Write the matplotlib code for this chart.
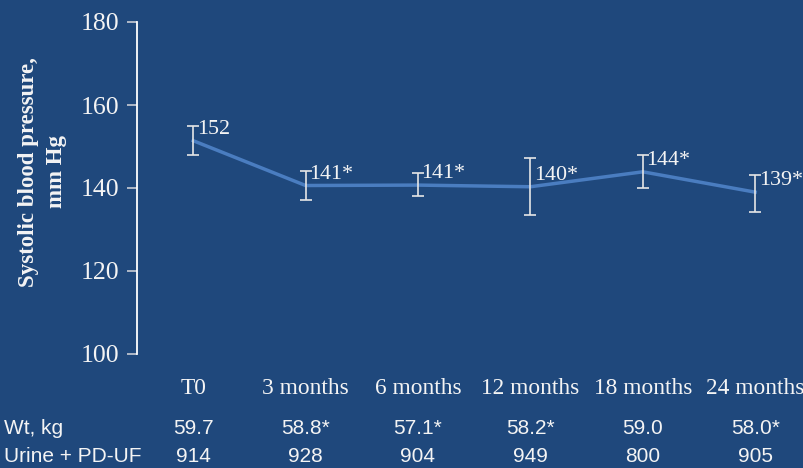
import matplotlib
matplotlib.use('Agg')
import matplotlib.pyplot as plt
import matplotlib.transforms as mtransforms
import numpy as np

# data
categories = ['T0', '3 months', '6 months', '12 months', '18 months', '24 months']
sbp = [151.4, 140.6, 140.7, 140.3, 143.9, 139.0]
sbp_upper = [155.0, 144.1, 143.6, 147.2, 147.9, 143.1]
sbp_lower = [147.9, 137.1, 138.1, 133.5, 140.0, 134.2]
sbp_labels = ['152', '141*', '141*', '140*', '144*', '139*']
wt_kg = ['59.7', '58.8*', '57.1*', '58.2*', '59.0', '58.0*']
urine_pduf = ['914', '928', '904', '949', '800', '905']
yticks = [100, 120, 140, 160, 180]

bg = '#1F487C'
line_col = '#4A7DC0'
txt = '#F4F4F4'
serif = ['Liberation Serif', 'DejaVu Serif']
sans = ['Liberation Sans', 'DejaVu Sans']

fig = plt.figure(figsize=(8.04, 4.68), dpi=100, facecolor=bg)
ax = fig.add_axes([137/804, 1 - 354/468, 1 - 137/804, (354 - 22)/468])
ax.set_facecolor(bg)

x = np.arange(len(categories))
y = np.array(sbp)
yerr = [y - np.array(sbp_lower), np.array(sbp_upper) - y]
ax.plot(x, y, color=line_col, lw=2.5, zorder=2)
ax.errorbar(x, y, yerr=yerr, fmt='none', ecolor='#E6E6E6', elinewidth=1.2,
            capsize=4, capthick=1.2, zorder=3)

for xi, yi, lab in zip(x, y, sbp_labels):
    ax.annotate(lab, (xi, yi), xytext=(2.5, 5), textcoords='offset points',
                ha='left', va='baseline', color=txt, fontsize=15.8, family=serif)

ax.set_xlim(-0.5, (804 - 137) / 112.4 - 0.5)
ax.set_ylim(100, 180)
ax.set_yticks(yticks)
ax.set_xticks(x)
ax.set_xticklabels(categories, family=serif, fontsize=16.8, color=txt)
ax.set_yticklabels([str(t) for t in yticks], family=serif, fontsize=18.5, color=txt)
ax.tick_params(axis='x', length=0, pad=17)
ax.tick_params(axis='y', length=7, width=1.2, color='#C8CCD4', pad=6)

for s in ['top', 'right', 'bottom']:
    ax.spines[s].set_visible(False)
ax.spines['left'].set_color('white')
ax.spines['left'].set_linewidth(1.3)

fig.text(0.053, 1 - 172/468, 'Systolic blood pressure,\nmm Hg', rotation=90,
         ha='center', va='center', multialignment='center', color=txt,
         fontsize=16.5, fontweight='bold', family=serif, linespacing=1.45)

# table below chart
trans = mtransforms.blended_transform_factory(ax.transData, fig.transFigure)
fig.text(4/804, 1 - 428/468, 'Wt, kg', ha='left', va='center', color=txt,
         fontsize=15, family=sans)
fig.text(4/804, 1 - 457/468, 'Urine + PD-UF', ha='left', va='center', color=txt,
         fontsize=15, family=sans)
for xi, w, u in zip(x, wt_kg, urine_pduf):
    ax.text(xi, 1 - 428/468, w, transform=trans, ha='center', va='center',
            color=txt, fontsize=15, family=sans, clip_on=False)
    ax.text(xi, 1 - 457/468, u, transform=trans, ha='center', va='center',
            color=txt, fontsize=15, family=sans, clip_on=False)

fig.savefig('out.png', dpi=100, facecolor=bg)
